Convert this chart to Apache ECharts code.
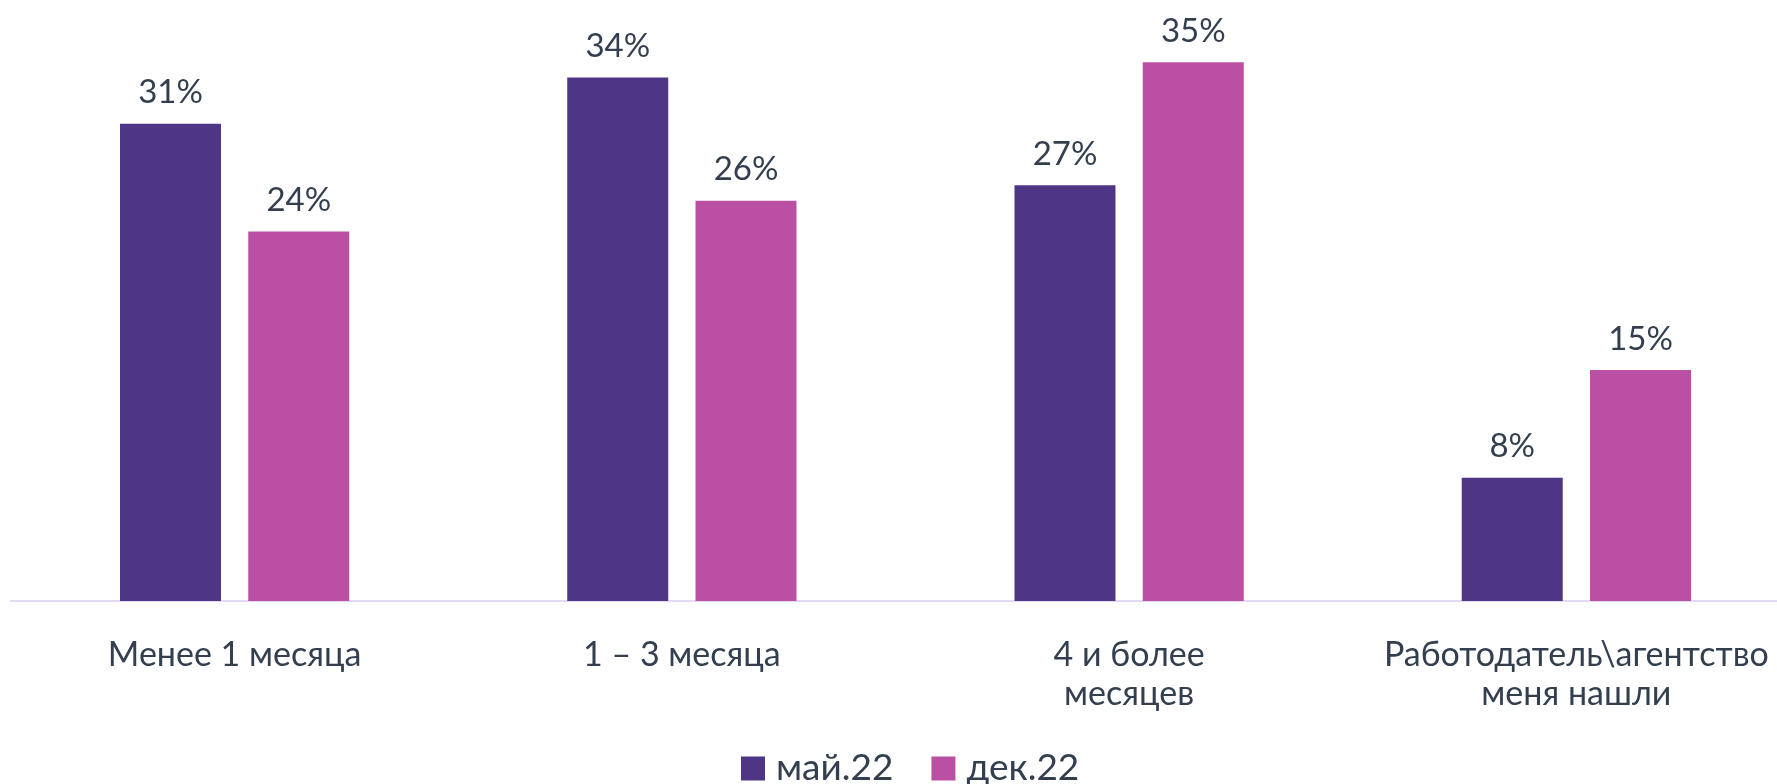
<!DOCTYPE html>
<html>
<head>
<meta charset="utf-8">
<script src="https://cdn.jsdelivr.net/npm/echarts@6/dist/echarts.min.js"></script>
<style>
  html, body { margin: 0; padding: 0; background: #fff; }
  #chart { width: 1777px; height: 784px; }
</style>
</head>
<body>
<div id="chart"></div>
<script>
// категории и значения (%)
const categories = ["Менее 1 месяца", "1 – 3 месяца", "4 и более\nмесяцев", "Работодатель\\агентство\nменя нашли"];
const seriesNames = ["май.22", "дек.22"];
const may22 = [31, 34, 27, 8];
const dec22 = [24, 26, 35, 15];

const textColor = "#333F4F";
const colors = ["#4E3586", "#BB4FA3"];

const chart = echarts.init(document.getElementById("chart"));

const labelStyle = {
  show: true,
  position: "top",
  distance: 13,
  color: textColor,
  fontFamily: "Lato",
  fontSize: 33,
  lineHeight: 36,
  formatter: (p) => p.value + "%",
};

chart.setOption({
  animation: false,
  color: colors,
  textStyle: { fontFamily: "Lato" },
  // plot runs a bit past the right edge, as in the original
  grid: { left: 11, width: 1789, top: 16, bottom: 183, outerBoundsMode: "none" },
  legend: {
    data: seriesNames,
    left: 736,
    top: 745,
    itemWidth: 24,
    itemHeight: 24,
    itemGap: 38,
    icon: "rect",
    textStyle: { color: textColor, fontSize: 37, fontFamily: "Lato", padding: [0, 0, 0, 6] },
  },
  xAxis: {
    type: "category",
    data: categories,
    axisTick: { show: false },
    axisLine: { lineStyle: { color: "#E2DAF0", width: 2 } },
    axisLabel: {
      color: textColor,
      fontSize: 34,
      fontFamily: "Lato",
      lineHeight: 39,
      margin: 35,
      interval: 0,
    },
  },
  yAxis: {
    type: "value",
    min: 0,
    max: 38,
    show: false,
    splitLine: { show: false },
  },
  series: [
    {
      name: seriesNames[0],
      type: "bar",
      data: may22,
      barWidth: 101,
      barGap: "27%",
      label: labelStyle,
    },
    {
      name: seriesNames[1],
      type: "bar",
      data: dec22,
      barWidth: 101,
      label: labelStyle,
    },
  ],
});
</script>
</body>
</html>
